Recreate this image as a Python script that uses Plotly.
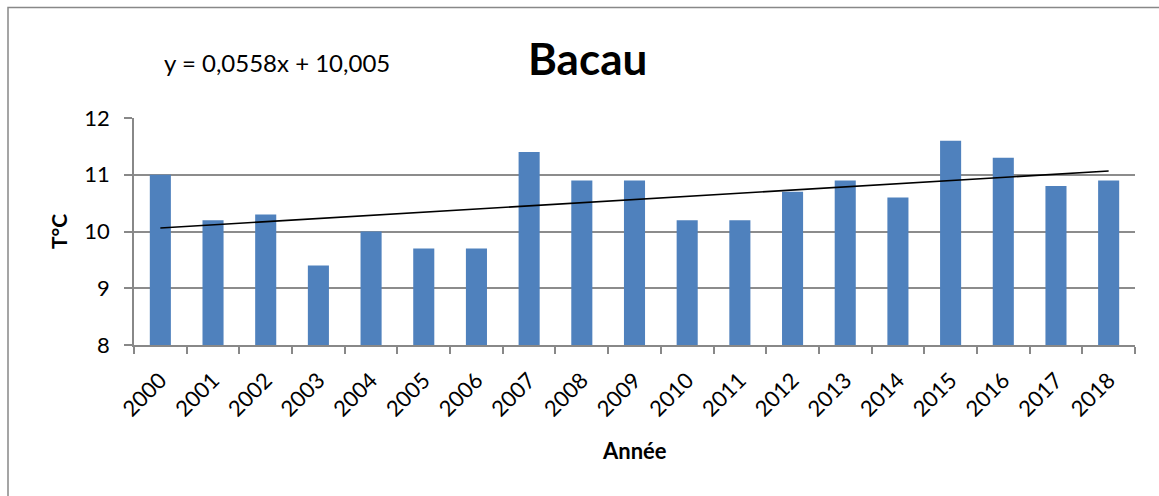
import plotly.graph_objects as go

years = [str(y) for y in range(2000, 2019)]
temps = [11.0, 10.2, 10.3, 9.4, 10.0, 9.7, 9.7, 11.4, 10.9, 10.9,
         10.2, 10.2, 10.7, 10.9, 10.6, 11.6, 11.3, 10.8, 10.9]
trend_slope = 0.0558
trend_intercept = 10.005
y_ticks = [8, 9, 10, 11, 12]

FONT = "Lato, 'Open Sans', sans-serif"
L, R, T, B = 134, 1135, 118, 345
W, H = 1159, 496
pw, ph = R - L, B - T

def px_x(x):
    return (x - L) / pw

def px_y(y):
    return (B - y) / ph

trend_x = [years[0], years[-1]]
trend_y = [trend_slope * 1 + trend_intercept, trend_slope * len(years) + trend_intercept]

fig = go.Figure()
fig.add_trace(go.Bar(x=years, y=temps, marker=dict(color="#4F81BD", line=dict(width=0)),
                     width=0.4, showlegend=False))
fig.add_trace(go.Scatter(x=trend_x, y=trend_y, mode="lines",
                         line=dict(color="black", width=1.6), showlegend=False))

fig.update_layout(
    width=W, height=H,
    margin=dict(l=L, r=W - R, t=T, b=H - B),
    paper_bgcolor="white", plot_bgcolor="white",
    font=dict(family=FONT, color="black"),
    bargap=0.6,
    xaxis=dict(type="category", tickangle=-45, tickfont=dict(size=22),
               ticks="outside", tickson="boundaries", ticklen=7, tickcolor="#888888", tickwidth=1.5,
               ticklabelstandoff=12,
               showline=True, linecolor="#888888", linewidth=1.5, showgrid=False),
    yaxis=dict(range=[8, 12], tickvals=y_ticks, tickfont=dict(size=22),
               ticks="outside", ticklen=8, tickcolor="#888888", tickwidth=1.5,
               ticklabelstandoff=10,
               showline=True, linecolor="#888888", linewidth=1.5,
               showgrid=True, gridcolor="#8c8c8c", gridwidth=1.5, zeroline=False),
    shapes=[dict(type="rect", xref="paper", yref="paper",
                 x0=px_x(8), x1=px_x(1200), y0=px_y(600), y1=px_y(7.5),
                 line=dict(color="#888888", width=1.5), fillcolor="rgba(0,0,0,0)", layer="below")],
    annotations=[
        dict(text="<b>Bacau</b>", xref="paper", yref="paper", x=px_x(587), y=px_y(58),
             showarrow=False, font=dict(size=44), xanchor="center", yanchor="middle"),
        dict(text="y = 0,0558x + 10,005", xref="paper", yref="paper", x=px_x(277), y=px_y(62),
             showarrow=False, font=dict(size=24), xanchor="center", yanchor="middle"),
        dict(text="<b>Année</b>", xref="paper", yref="paper", x=px_x(634), y=px_y(450),
             showarrow=False, font=dict(size=22), xanchor="center", yanchor="middle"),
        dict(text="<b>T°C</b>", xref="paper", yref="paper", x=px_x(58), y=px_y(232),
             showarrow=False, font=dict(size=21), textangle=-90, xanchor="center", yanchor="middle"),
    ],
)

fig.write_html("out.html", config={"displayModeBar": False},
               post_script="document.body.style.margin='0';document.body.style.padding='0';")
